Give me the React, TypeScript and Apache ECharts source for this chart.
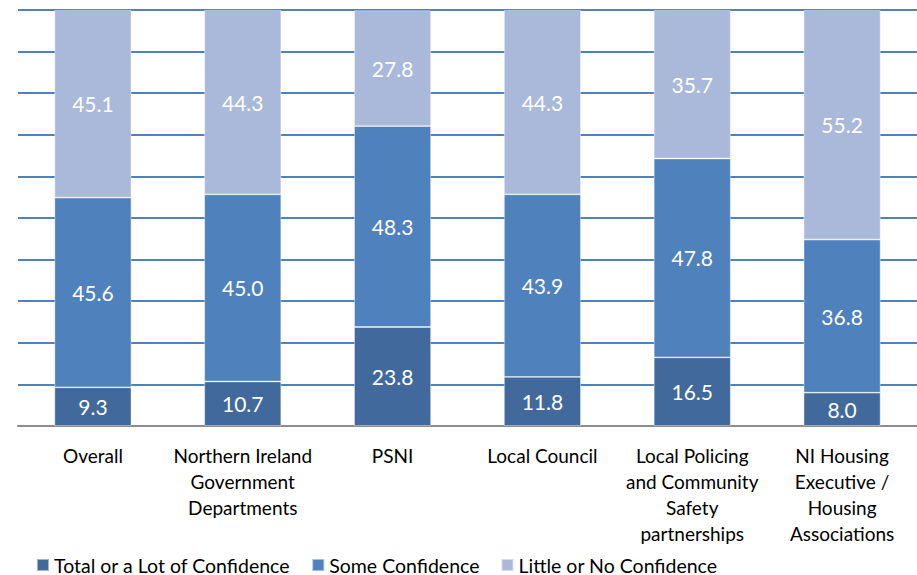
import React, { useEffect, useRef } from "react";
import * as echarts from "echarts";

const categories = [
  "Overall",
  "Northern Ireland\nGovernment\nDepartments",
  "PSNI",
  "Local Council",
  "Local Policing\nand Community\nSafety\npartnerships",
  "NI Housing\nExecutive /\nHousing\nAssociations",
];
const totalLot = [9.3, 10.7, 23.8, 11.8, 16.5, 8.0];
const someConf = [45.6, 45.0, 48.3, 43.9, 47.8, 36.8];
const littleNo = [45.1, 44.3, 27.8, 44.3, 35.7, 55.2];
const seriesNames = ["Total or a Lot of Confidence", "Some Confidence", "Little or No Confidence"];
const colors = ["#41699B", "#4F81BD", "#AAB9D9"];

const FONT = "Lato";

export default function App() {
  const ref = useRef<HTMLDivElement>(null);
  useEffect(() => {
    const chart = echarts.init(ref.current!, undefined, { renderer: "svg" });
    const mk = (name: string, data: number[], i: number) => ({
      name,
      type: "bar",
      stack: "all",
      data,
      barWidth: 77,
      itemStyle: { color: colors[i], borderColor: "rgba(255,255,255,0.5)", borderWidth: 0.8 },
      label: {
        show: true,
        position: "inside",
        color: "#ffffff",
        fontFamily: FONT,
        fontSize: 21,
        formatter: (p: any) => Number(p.value).toFixed(1),
      },
    });
    chart.setOption({
      animation: false,
      textStyle: { fontFamily: FONT },
      grid: { left: 18, right: -3, top: 10, bottom: 149, containLabel: false },
      legend: {
        top: 550,
        left: 31,
        itemWidth: 12,
        itemHeight: 12,
        itemGap: 21,
        icon: "rect",
        textStyle: { fontFamily: FONT, fontSize: 19.5, color: "#000" },
        data: seriesNames,
      },
      xAxis: {
        type: "category",
        data: categories,
        axisLine: { show: true, lineStyle: { color: "#8C8C8C", width: 2 } },
        axisTick: { show: false },
        axisLabel: {
          interval: 0,
          color: "#000",
          fontFamily: FONT,
          fontSize: 19,
          lineHeight: 26,
          margin: 16,
        },
      },
      yAxis: {
        type: "value",
        min: 0,
        max: 100,
        interval: 10,
        axisLabel: { show: false },
        axisLine: { show: false },
        axisTick: { show: false },
        splitLine: { show: true, lineStyle: { color: "#4F81BD", width: 2 } },
      },
      series: [mk(seriesNames[0], totalLot, 0), mk(seriesNames[1], someConf, 1), mk(seriesNames[2], littleNo, 2)],
    });
    return () => chart.dispose();
  }, []);
  return <div ref={ref} style={{ width: 917, height: 575, position: "absolute", left: 0, top: 0 }} />;
}
